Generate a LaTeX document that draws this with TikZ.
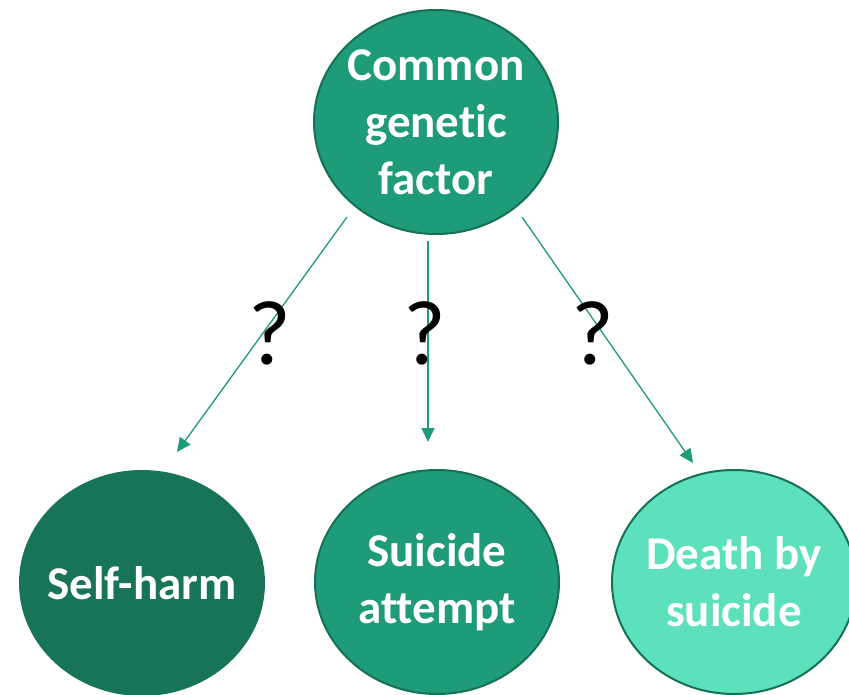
\documentclass[tikz,border=0pt]{standalone}
\usepackage{fontspec}
\setmainfont[Ligatures=NoCommon]{Carlito}
\usetikzlibrary{shapes.geometric,arrows.meta}
\definecolor{midgreen}{RGB}{30,155,120}
\definecolor{darkgreen}{RGB}{23,116,89}
\definecolor{rimgreen}{RGB}{21,112,86}
\definecolor{lightgreen}{RGB}{92,225,188}
\tikzset{
	factor/.style={shape=ellipse,minimum width=244pt,minimum height=224pt,
		inner xsep=-35pt,inner ysep=-50pt,
		draw=rimgreen,line width=2pt,text=white,align=center,
		font=\bfseries\fontsize{47}{57}\selectfont},
	link/.style={draw=midgreen,line width=1.3pt,-{Triangle[length=14pt,width=13pt]}},
	unknown/.style={font=\fontsize{92}{92}\selectfont,inner sep=0pt}
}
\begin{document}
\begin{tikzpicture}[x=1pt,y=-1pt]
		\useasboundingbox (0,0) rectangle (849,695);
		\begin{scope}
		\clip (0,0) rectangle (849,695);
		% the common cause on top, the three outcomes below
		\node[factor,fill=midgreen] (gene) at (436,122) {Common\\genetic\\factor};
		\node[factor,fill=darkgreen,draw=darkgreen] (harm) at (142,583) {Self-harm};
		\node[factor,fill=midgreen] (attempt) at (437,582) {Suicide\\attempt};
		\node[factor,fill=lightgreen] (death) at (734,582) {Death by\\suicide};
		\end{scope}
		
		% free ends of the arrows, they stop short of the circles
		\coordinate (h0) at (347,217);
		\coordinate (h1) at (177,452);
		\coordinate (a0) at (428,241);
		\coordinate (a1) at (428,442);
		\coordinate (d0) at (522,217);
		\coordinate (d1) at (693,463);
		\foreach \s/\e in {h0/h1,a0/a1,d0/d1} {
			\draw[link] (\s) -- (\e);
		}
		
		% question marks on the arrows
		\foreach \mynode/\myx in {q1/270,q2/425,q3/593} {
			\node[unknown] (\mynode) at (\myx,333) {?};
		}
		\end{tikzpicture}
\end{document}
